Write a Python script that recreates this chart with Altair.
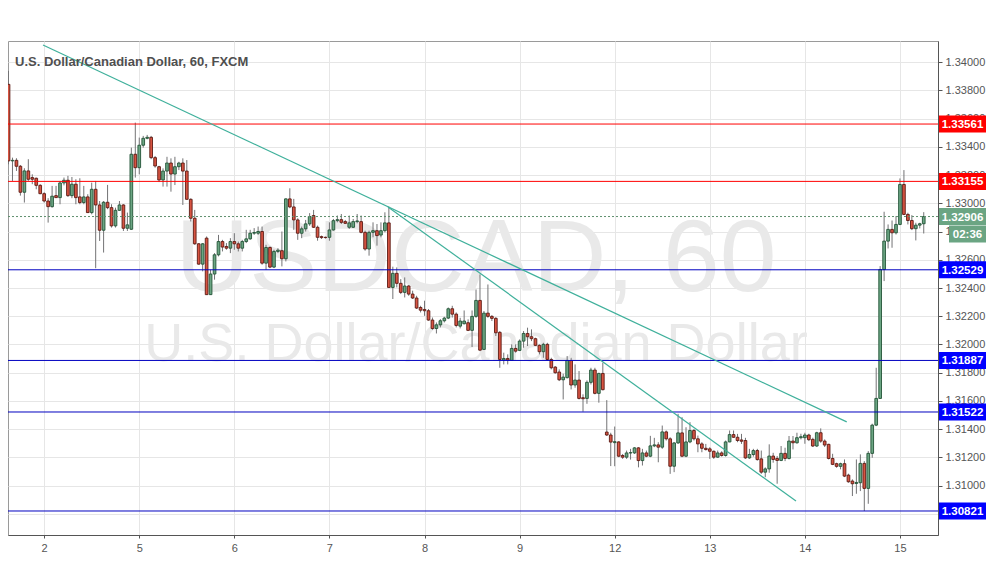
import altair as alt
import pandas as pd

# ---- hourly candles (open, high, low, close) ----
opens = [1.33842, 1.33300, 1.33304, 1.33262, 1.33078, 1.33229, 1.33182, 1.33177, 1.33127, 1.33068,
         1.33016, 1.32976, 1.33054, 1.33040, 1.33144, 1.33163, 1.33054, 1.33135, 1.33045, 1.33005,
         1.33045, 1.32934, 1.33099, 1.32988, 1.32809, 1.33007, 1.32969, 1.32840, 1.32950, 1.32988,
         1.32823, 1.32816, 1.33347, 1.33252, 1.33411, 1.33460, 1.33467, 1.33323, 1.33259, 1.33165,
         1.33228, 1.33285, 1.33207, 1.33259, 1.33285, 1.33228, 1.33028, 1.32894, 1.32713, 1.32569,
         1.32753, 1.32353, 1.32499, 1.32635, 1.32729, 1.32694, 1.32682, 1.32729, 1.32713, 1.32682,
         1.32729, 1.32748, 1.32788, 1.32788, 1.32800, 1.32576, 1.32687, 1.32548, 1.32659, 1.32664,
         1.32607, 1.33031, 1.32974, 1.32882, 1.32788, 1.32819, 1.32854, 1.32913, 1.32830, 1.32764,
         1.32759, 1.32759, 1.32811, 1.32877, 1.32884, 1.32870, 1.32830, 1.32830, 1.32870, 1.32870,
         1.32794, 1.32676, 1.32794, 1.32806, 1.32775, 1.32806, 1.32861, 1.32404, 1.32504, 1.32433,
         1.32369, 1.32414, 1.32357, 1.32329, 1.32262, 1.32248, 1.32239, 1.32173, 1.32113, 1.32139,
         1.32168, 1.32187, 1.32253, 1.32215, 1.32130, 1.32147, 1.32154, 1.32100, 1.32199, 1.32312,
         1.31965, 1.32222, 1.32199, 1.32185, 1.32086, 1.31890, 1.31901, 1.31887, 1.31972, 1.31958,
         1.32024, 1.32078, 1.32055, 1.32041, 1.31994, 1.31949, 1.32001, 1.31894, 1.31840, 1.31805,
         1.31750, 1.31765, 1.31887, 1.31713, 1.31748, 1.31623, 1.31618, 1.31732, 1.31819, 1.31654,
         1.31795, 1.31380, 1.31359, 1.31305, 1.31310, 1.31214, 1.31202, 1.31232, 1.31232, 1.31268,
         1.31178, 1.31232, 1.31209, 1.31282, 1.31289, 1.31273, 1.31381, 1.31332, 1.31138, 1.31303,
         1.31374, 1.31209, 1.31310, 1.31391, 1.31332, 1.31296, 1.31265, 1.31261, 1.31244, 1.31202,
         1.31232, 1.31214, 1.31310, 1.31362, 1.31343, 1.31324, 1.31320, 1.31197, 1.31221, 1.31249,
         1.31190, 1.31096, 1.31119, 1.31210, 1.31193, 1.31179, 1.31229, 1.31193, 1.31316, 1.31304,
         1.31340, 1.31340, 1.31359, 1.31328, 1.31281, 1.31375, 1.31316, 1.31293, 1.31193, 1.31156,
         1.31137, 1.31156, 1.31075, 1.31033, 1.31016, 1.31021, 1.31158, 1.30981, 1.31229, 1.31429,
         1.31618, 1.32531, 1.32732, 1.32815, 1.32791, 1.32850, 1.33133, 1.32921, 1.32878, 1.32820,
         1.32845, 1.32855]
highs = [1.33937, 1.33323, 1.33319, 1.33271, 1.33248, 1.33312, 1.33205, 1.33182, 1.33135, 1.33078,
         1.33036, 1.33123, 1.33123, 1.33158, 1.33182, 1.33194, 1.33186, 1.33170, 1.33177, 1.33123,
         1.33064, 1.33146, 1.33158, 1.33016, 1.33016, 1.33130, 1.32993, 1.32969, 1.33016, 1.32993,
         1.32934, 1.33394, 1.33571, 1.33465, 1.33477, 1.33484, 1.33477, 1.33335, 1.33265, 1.33247,
         1.33329, 1.33318, 1.33329, 1.33294, 1.33318, 1.33306, 1.33035, 1.32953, 1.32718, 1.32718,
         1.32765, 1.32529, 1.32647, 1.32776, 1.32741, 1.32718, 1.32753, 1.32788, 1.32729, 1.32741,
         1.32812, 1.32812, 1.32824, 1.32835, 1.32835, 1.32706, 1.32694, 1.32671, 1.32682, 1.32800,
         1.33035, 1.33106, 1.33031, 1.32894, 1.32835, 1.32882, 1.32930, 1.32953, 1.32842, 1.32771,
         1.32764, 1.32865, 1.32889, 1.32913, 1.32924, 1.32882, 1.32913, 1.32889, 1.32924, 1.32913,
         1.32806, 1.32806, 1.32865, 1.32853, 1.32865, 1.32936, 1.32976, 1.32551, 1.32546, 1.32463,
         1.32475, 1.32421, 1.32381, 1.32345, 1.32274, 1.32310, 1.32251, 1.32191, 1.32156, 1.32180,
         1.32196, 1.32262, 1.32274, 1.32227, 1.32189, 1.32241, 1.32178, 1.32241, 1.32390, 1.32496,
         1.32237, 1.32425, 1.32208, 1.32194, 1.32095, 1.31942, 1.31930, 1.32001, 1.32001, 1.32036,
         1.32095, 1.32119, 1.32107, 1.32048, 1.32001, 1.32012, 1.32012, 1.31906, 1.31847, 1.31824,
         1.31793, 1.31918, 1.31906, 1.31859, 1.31812, 1.31647, 1.31746, 1.31835, 1.31835, 1.31800,
         1.31871, 1.31606, 1.31375, 1.31419, 1.31315, 1.31225, 1.31249, 1.31261, 1.31273, 1.31273,
         1.31261, 1.31249, 1.31353, 1.31339, 1.31308, 1.31426, 1.31391, 1.31343, 1.31308, 1.31509,
         1.31485, 1.31414, 1.31450, 1.31402, 1.31355, 1.31308, 1.31296, 1.31273, 1.31249, 1.31249,
         1.31244, 1.31320, 1.31391, 1.31391, 1.31367, 1.31367, 1.31339, 1.31261, 1.31261, 1.31261,
         1.31249, 1.31130, 1.31293, 1.31233, 1.31210, 1.31281, 1.31269, 1.31352, 1.31352, 1.31375,
         1.31368, 1.31375, 1.31368, 1.31340, 1.31382, 1.31406, 1.31328, 1.31297, 1.31226, 1.31163,
         1.31163, 1.31186, 1.31085, 1.31045, 1.31186, 1.31222, 1.31174, 1.31245, 1.31439, 1.31835,
         1.32555, 1.32940, 1.32850, 1.32878, 1.32909, 1.33176, 1.33235, 1.32933, 1.32916, 1.32862,
         1.32862, 1.32937]
lows = [1.33276, 1.33158, 1.33229, 1.33054, 1.33005, 1.33158, 1.33135, 1.33099, 1.33064, 1.33005,
        1.32863, 1.32969, 1.33040, 1.32993, 1.33127, 1.33045, 1.33036, 1.32993, 1.32993, 1.32993,
        1.32934, 1.32922, 1.32540, 1.32733, 1.32651, 1.32958, 1.32828, 1.32828, 1.32946, 1.32804,
        1.32804, 1.32811, 1.33182, 1.33205, 1.33394, 1.33453, 1.33312, 1.33252, 1.33150, 1.33118,
        1.33118, 1.33082, 1.33129, 1.33235, 1.32988, 1.33024, 1.32871, 1.32706, 1.32565, 1.32518,
        1.32353, 1.32353, 1.32459, 1.32624, 1.32659, 1.32671, 1.32647, 1.32671, 1.32659, 1.32659,
        1.32718, 1.32741, 1.32776, 1.32776, 1.32565, 1.32529, 1.32541, 1.32541, 1.32647, 1.32553,
        1.32588, 1.32965, 1.32812, 1.32741, 1.32753, 1.32800, 1.32840, 1.32825, 1.32735, 1.32747,
        1.32750, 1.32735, 1.32806, 1.32865, 1.32853, 1.32853, 1.32818, 1.32825, 1.32858, 1.32787,
        1.32664, 1.32629, 1.32759, 1.32700, 1.32759, 1.32794, 1.32404, 1.32322, 1.32404, 1.32357,
        1.32333, 1.32345, 1.32322, 1.32251, 1.32227, 1.32203, 1.32168, 1.32104, 1.32078, 1.32121,
        1.32156, 1.32180, 1.32191, 1.32121, 1.32114, 1.32142, 1.32095, 1.31982, 1.32189, 1.31953,
        1.31965, 1.32189, 1.32166, 1.32060, 1.31835, 1.31859, 1.31859, 1.31883, 1.31942, 1.31953,
        1.31977, 1.31989, 1.32024, 1.31989, 1.31930, 1.31906, 1.31887, 1.31824, 1.31793, 1.31741,
        1.31611, 1.31760, 1.31682, 1.31694, 1.31611, 1.31524, 1.31580, 1.31717, 1.31647, 1.31588,
        1.31675, 1.31352, 1.31139, 1.31138, 1.31202, 1.31190, 1.31190, 1.31185, 1.31225, 1.31130,
        1.31143, 1.31202, 1.31202, 1.31273, 1.31166, 1.31261, 1.31320, 1.31084, 1.31096, 1.31296,
        1.31202, 1.31202, 1.31301, 1.31320, 1.31237, 1.31237, 1.31249, 1.31190, 1.31190, 1.31197,
        1.31206, 1.31206, 1.31308, 1.31339, 1.31308, 1.31296, 1.31190, 1.31190, 1.31206, 1.31178,
        1.31084, 1.31060, 1.31092, 1.31163, 1.31014, 1.31174, 1.31174, 1.31186, 1.31257, 1.31297,
        1.31328, 1.31297, 1.31316, 1.31274, 1.31274, 1.31304, 1.31274, 1.31186, 1.31146, 1.31127,
        1.31116, 1.31061, 1.31021, 1.30927, 1.30943, 1.30962, 1.30821, 1.30872, 1.31198, 1.31422,
        1.31618, 1.32449, 1.32680, 1.32685, 1.32779, 1.32845, 1.32916, 1.32850, 1.32810, 1.32737,
        1.32822, 1.32786]
closes = [1.33300, 1.33304, 1.33262, 1.33078, 1.33229, 1.33170, 1.33170, 1.33127, 1.33068, 1.33016,
          1.32976, 1.33050, 1.33040, 1.33144, 1.33163, 1.33054, 1.33135, 1.33040, 1.33005, 1.33045,
          1.32934, 1.33099, 1.32988, 1.32809, 1.33007, 1.32969, 1.32840, 1.32950, 1.32988, 1.32823,
          1.32847, 1.33347, 1.33252, 1.33411, 1.33460, 1.33467, 1.33323, 1.33264, 1.33165, 1.33228,
          1.33285, 1.33207, 1.33259, 1.33285, 1.33228, 1.33028, 1.32894, 1.32713, 1.32569, 1.32713,
          1.32353, 1.32499, 1.32635, 1.32729, 1.32690, 1.32682, 1.32729, 1.32713, 1.32682, 1.32729,
          1.32748, 1.32788, 1.32793, 1.32800, 1.32576, 1.32687, 1.32548, 1.32659, 1.32668, 1.32607,
          1.33031, 1.32974, 1.32882, 1.32788, 1.32819, 1.32854, 1.32906, 1.32830, 1.32759, 1.32757,
          1.32757, 1.32811, 1.32877, 1.32884, 1.32865, 1.32858, 1.32861, 1.32870, 1.32875, 1.32794,
          1.32676, 1.32794, 1.32806, 1.32771, 1.32806, 1.32861, 1.32404, 1.32504, 1.32433, 1.32369,
          1.32414, 1.32357, 1.32329, 1.32258, 1.32243, 1.32239, 1.32173, 1.32113, 1.32139, 1.32168,
          1.32187, 1.32253, 1.32215, 1.32135, 1.32166, 1.32166, 1.32100, 1.32199, 1.32312, 1.31960,
          1.32222, 1.32199, 1.32185, 1.32083, 1.31894, 1.31901, 1.31890, 1.31972, 1.31953, 1.32024,
          1.32078, 1.32055, 1.32041, 1.31994, 1.31949, 1.32001, 1.31894, 1.31835, 1.31800, 1.31750,
          1.31769, 1.31887, 1.31713, 1.31748, 1.31618, 1.31616, 1.31732, 1.31819, 1.31654, 1.31795,
          1.31680, 1.31359, 1.31309, 1.31312, 1.31209, 1.31202, 1.31232, 1.31234, 1.31268, 1.31178,
          1.31232, 1.31209, 1.31282, 1.31289, 1.31273, 1.31381, 1.31332, 1.31138, 1.31303, 1.31374,
          1.31209, 1.31310, 1.31391, 1.31332, 1.31296, 1.31265, 1.31256, 1.31244, 1.31202, 1.31232,
          1.31214, 1.31310, 1.31362, 1.31343, 1.31320, 1.31315, 1.31197, 1.31221, 1.31249, 1.31185,
          1.31096, 1.31119, 1.31210, 1.31186, 1.31179, 1.31229, 1.31193, 1.31316, 1.31304, 1.31340,
          1.31347, 1.31359, 1.31326, 1.31281, 1.31375, 1.31316, 1.31288, 1.31193, 1.31151, 1.31137,
          1.31156, 1.31068, 1.31028, 1.31014, 1.31023, 1.31158, 1.30981, 1.31229, 1.31429, 1.31618,
          1.32531, 1.32732, 1.32815, 1.32791, 1.32850, 1.33133, 1.32921, 1.32878, 1.32820, 1.32845,
          1.32855, 1.32906]

# ---- axis labels ----
day_positions = [9, 33, 57, 81, 105, 129, 153, 177, 201, 225]
day_labels = ["2", "5", "6", "7", "8", "9", "12", "13", "14", "15"]
price_ticks = [1.308, 1.310, 1.312, 1.314, 1.316, 1.318, 1.320, 1.322, 1.324, 1.326,
               1.328, 1.330, 1.332, 1.334, 1.336, 1.338, 1.340]
hidden_tick = 1.308  # fully covered by the 1.30821 price box in the reference

# ---- drawn levels and trend lines ----
red_levels = [1.33561, 1.33155]
blue_levels = [1.32529, 1.31887, 1.31522, 1.30821]
last_price = 1.32906
countdown = "02:36"
trend_id = ["a", "a", "b", "b"]
trend_x = [8.7, 211.56, 95.78, 198.76]
trend_y = [1.34121, 1.31452, 1.32974, 1.30892]

title_text = "U.S. Dollar/Canadian Dollar, 60, FXCM"
wm_big = "USDCAD, 60"
wm_small = "U.S. Dollar/Canadian Dollar"

# ---- layout / style ----
W, H = 930, 494
PAD = {"left": 0, "top": 33, "right": 48, "bottom": 17}
Y_MIN, Y_MAX = 1.30651, 1.34149
X_MIN, X_MAX = -0.13, 234.6
PPU = H / (Y_MAX - Y_MIN)
UP_FILL, UP_LINE = "#6ba583", "#225437"
DN_FILL, DN_LINE = "#d75442", "#5b1a13"
WICK = "#737375"
RED, BLUE, TEAL = "#ff0000", "#0000c0", "#3fb09b"
FONT = "Liberation Sans"

candles = pd.DataFrame({"i": list(range(len(opens))), "o": opens, "h": highs,
                        "l": lows, "c": closes})

xs = alt.Scale(domain=[X_MIN, X_MAX], nice=False, zero=False)
ys = alt.Scale(domain=[Y_MIN, Y_MAX], nice=False, zero=False)

x_label_expr = " : ".join(f"datum.value == {p} ? '{t}'" for p, t in zip(day_positions, day_labels)) + " : ''"
y_label_expr = f"datum.value < {hidden_tick + 0.0005} ? '' : format(datum.value, '.5f')"

x_axis = alt.Axis(values=day_positions, labelExpr=x_label_expr, grid=True, gridColor="#e6e6e6",
                  domainColor="#555555", tickColor="#555555", tickSize=3, labelColor="#555555",
                  labelFontSize=11, labelFont=FONT, labelPadding=4, title=None)
y_axis = alt.Axis(orient="right", values=price_ticks, labelExpr=y_label_expr, grid=True,
                  gridColor="#e6e6e6", domainColor="#555555", tickColor="#555555", tickSize=4,
                  labelColor="#555555", labelFontSize=11, labelFont=FONT, labelPadding=3, title=None)


def X(field):
    return alt.X(field, scale=xs, axis=x_axis)


def Y(field):
    return alt.Y(field, scale=ys, axis=y_axis)


one = pd.DataFrame({"k": [0]})

wm1 = alt.Chart(one).mark_text(text=wm_big, font=FONT, fontSize=102, color="#e9e9e9",
                               align="center", baseline="alphabetic").encode(
    x=alt.value(W / 2 + 3), y=alt.value(250))
wm2 = alt.Chart(one).mark_text(text=wm_small, font=FONT, fontSize=54, color="#e9e9e9",
                               align="center", baseline="alphabetic").encode(
    x=alt.value(W / 2 + 3), y=alt.value(320))

base = alt.Chart(candles)
up = alt.datum.c >= alt.datum.o

wicks = base.mark_rule(color=WICK, strokeWidth=1).encode(
    x=X("i:Q"), y=Y("l:Q"), y2="h:Q")

bodies = base.transform_calculate(x1="datum.i - 0.34", x2="datum.i + 0.34").mark_rect(strokeWidth=0.9).encode(
    x=X("x1:Q"), x2="x2:Q", y=Y("o:Q"), y2="c:Q",
    fill=alt.condition(up, alt.value(UP_FILL), alt.value(DN_FILL)),
    stroke=alt.condition(up, alt.value(UP_LINE), alt.value(DN_LINE)))

lv = pd.DataFrame({"p": red_levels + blue_levels,
                   "col": [RED] * len(red_levels) + [BLUE] * len(blue_levels)})
levels = alt.Chart(lv).mark_rule(strokeWidth=1).encode(
    y=Y("p:Q"), color=alt.Color("col:N", scale=None))

lastdf = pd.DataFrame({"p": [last_price]})
lastline = alt.Chart(lastdf).mark_rule(strokeWidth=1, strokeDash=[2, 2], color="#5e8f6e").encode(
    y=Y("p:Q"))

tr = pd.DataFrame({"id": trend_id, "x": trend_x, "y": trend_y})
trends = alt.Chart(tr).mark_line(color=TEAL, strokeWidth=1.2, clip=True).encode(
    x=X("x:Q"), y=Y("y:Q"), detail="id:N")

boxdf = pd.DataFrame({"p": red_levels + blue_levels + [last_price],
                      "col": [RED] * len(red_levels) + ["#0000ff"] * len(blue_levels) + [UP_FILL]})
boxdf["t"] = boxdf["p"].map(lambda v: f"{v:.5f}")
half = 8.5 / PPU
boxes = alt.Chart(boxdf).transform_calculate(
    lo=f"datum.p - {half}", hi=f"datum.p + {half}").mark_rect().encode(
    x=alt.value(W + 1), x2=alt.value(W + PAD["right"]),
    y=Y("lo:Q"), y2="hi:Q",
    fill=alt.Color("col:N", scale=None))
boxtext = alt.Chart(boxdf).mark_text(font=FONT, fontSize=11.5, fontWeight="bold", color="white",
                                     align="center", baseline="middle", dy=1).encode(
    x=alt.value(W + 1 + (PAD["right"] - 1) / 2), y=Y("p:Q"), text="t:N")

cd_center = last_price - 17.5 / PPU
cddf = pd.DataFrame({"p": [cd_center], "t": [countdown]})
cdbox = alt.Chart(cddf).transform_calculate(
    lo=f"datum.p - {half}", hi=f"datum.p + {half}").mark_rect(color=UP_FILL).encode(
    x=alt.value(W + 11), x2=alt.value(W + PAD["right"]),
    y=Y("lo:Q"), y2="hi:Q")
cdtext = alt.Chart(cddf).mark_text(font=FONT, fontSize=11.5, fontWeight="bold", color="white",
                                   align="center", baseline="middle", dy=1).encode(
    x=alt.value(W + 11 + (PAD["right"] - 11) / 2), y=Y("p:Q"), text="t:N")

title = alt.Chart(one).mark_text(text=title_text, font=FONT, fontSize=13, fontWeight="bold",
                                 color="#4f4f4f", align="left", baseline="alphabetic").encode(
    x=alt.value(7), y=alt.value(25))

chart = alt.layer(wm1, wm2, wicks, bodies, levels, lastline, trends, boxes, boxtext,
                  cdbox, cdtext, title).properties(
    width=W, height=H,
    padding=PAD,
    autosize=alt.AutoSizeParams(type="none"),
    background="white",
).configure_view(stroke="#9a9a9a", strokeWidth=1)

chart.save("out.html", embed_options={"renderer": "svg", "actions": False})
